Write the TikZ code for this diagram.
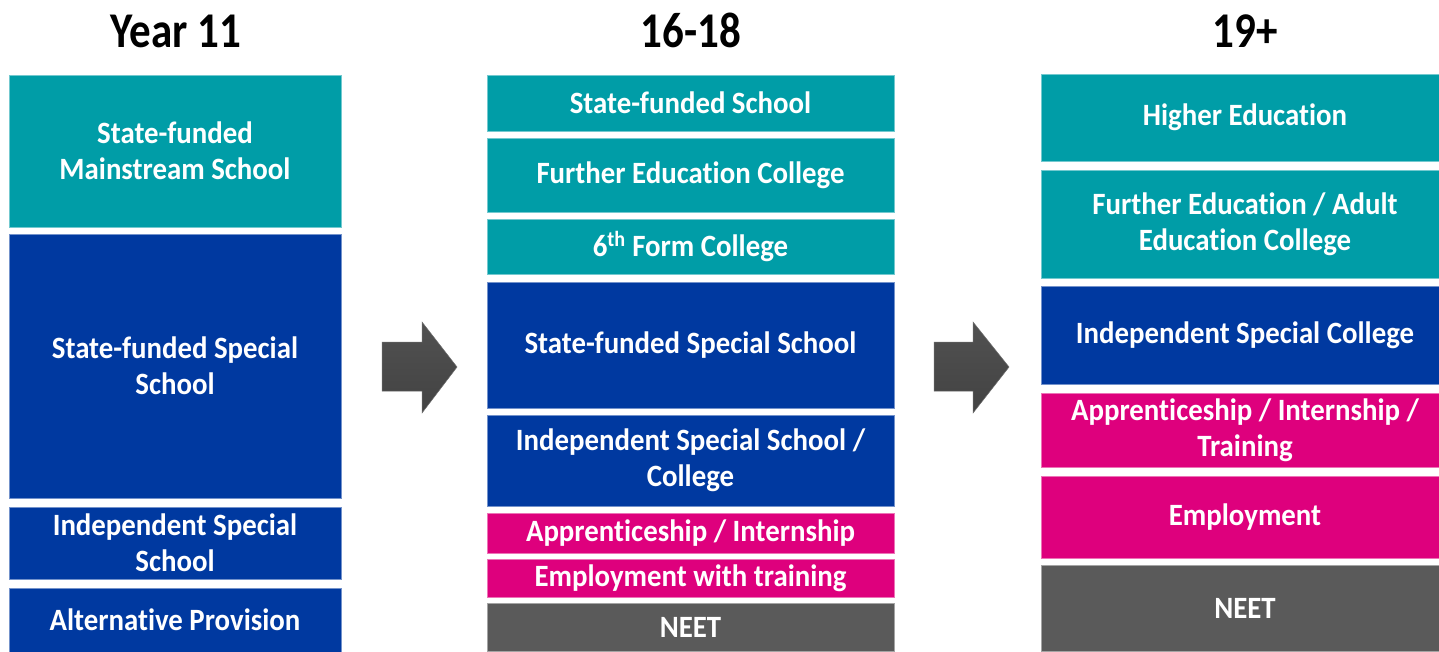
\documentclass[tikz,border=0pt]{standalone}
\usepackage{fontspec}
\setmainfont{Carlito}[FakeStretch=0.93, Ligatures=NoCommon]
\newfontfamily\titlefont{Carlito}[FakeStretch=0.86, Ligatures=NoCommon]
\definecolor{cteal}{RGB}{0,157,167}
\definecolor{cblue}{RGB}{0,57,160}
\definecolor{cmag}{RGB}{222,0,125}
\definecolor{cgray}{RGB}{90,90,90}
\definecolor{carrow}{RGB}{72,72,72}
\begin{document}
\begin{tikzpicture}[x=1pt,y=-1pt,
  box/.style={rectangle, inner sep=0pt, align=center, text=white,
    font=\fontsize{31}{36}\selectfont\bfseries},
  tealbox/.style={box, fill=cteal, draw=cteal!55!white, line width=0.8pt},
  bluebox/.style={box, fill=cblue, draw=cblue!55!white, line width=0.8pt},
  magbox/.style={box, fill=cmag, draw=cmag!55!white, line width=0.8pt},
  graybox/.style={box, fill=cgray, draw=cgray!55!white, line width=0.8pt},
  title/.style={anchor=base, inner sep=0pt, font=\titlefont\fontsize{50}{60}\selectfont\bfseries},
  blockarrow/.style={top color=carrow!95!white, bottom color=carrow!92!black, draw=carrow!80!white, line width=0.5pt}
]
\useasboundingbox (0,0) rectangle (1439,651);
\fill[white] (0,0) rectangle (1439,651);
\clip (0,0) rectangle (1439,651);

% titles
\node[title] (t1) at (176,47) {Year 11};
\node[title] (t2) at (691,47) {16-18};
\node[title] (t3) at (1245,47) {19+};

% column 1
\node[tealbox, minimum width=332, minimum height=152] (a1) at (175,151) {State-funded\\Mainstream School};
\node[bluebox, minimum width=332, minimum height=264] (a2) at (175,366) {State-funded Special\\School};
\node[bluebox, minimum width=332, minimum height=72] (a3) at (175,543) {Independent Special\\School};
\node[bluebox, minimum width=332, minimum height=64] (a4) at (175,620) {Alternative Provision};

% column 2
\node[tealbox, minimum width=407, minimum height=56] (b1) at (690.5,103) {State-funded School};
\node[tealbox, minimum width=407, minimum height=74] (b2) at (690.5,175) {Further Education College};
\node[tealbox, minimum width=407, minimum height=55] (b3) at (690.5,246.5) {6\textsuperscript{th} Form College};
\node[bluebox, minimum width=407, minimum height=126] (b4) at (690.5,345) {State-funded Special School};
\node[bluebox, minimum width=407, minimum height=91] (b5) at (690.5,460.5) {Independent Special School /\\College};
\node[magbox, minimum width=407, minimum height=40] (b6) at (690.5,533) {Apprenticeship / Internship};
\node[magbox, minimum width=407, minimum height=38] (b7) at (690.5,578) {Employment with training};
\node[graybox, minimum width=407, minimum height=48] (b8) at (690.5,627) {NEET};

% column 3
\node[tealbox, minimum width=408, minimum height=87] (c1) at (1245,117.5) {Higher Education};
\node[tealbox, minimum width=408, minimum height=108] (c2) at (1245,224) {Further Education / Adult\\Education College};
\node[bluebox, minimum width=408, minimum height=98] (c3) at (1245,335) {Independent Special College};
\node[magbox, minimum width=408, minimum height=74] (c4) at (1245,430) {Apprenticeship / Internship /\\Training};
\node[magbox, minimum width=408, minimum height=82] (c5) at (1245,517) {Employment};
\node[graybox, minimum width=408, minimum height=86] (c6) at (1245,608) {NEET};

% block arrows
\shade[blockarrow] (382,342) -- (422,342) -- (422,322) -- (457,367) -- (422,413) -- (422,391) -- (382,391) -- cycle;
\shade[blockarrow] (934,342) -- (973,342) -- (973,322) -- (1009,367) -- (973,413) -- (973,391) -- (934,391) -- cycle;
\end{tikzpicture}
\end{document}
